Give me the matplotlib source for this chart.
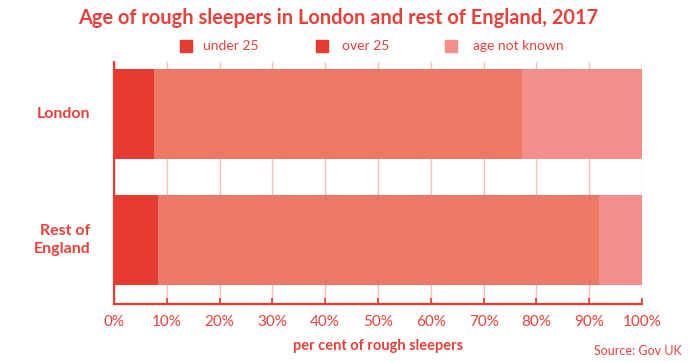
import matplotlib
matplotlib.use('Agg')
import matplotlib.pyplot as plt
import numpy as np
from matplotlib.patches import Rectangle

# data (per cent of rough sleepers)
regions = ['London', 'Rest of\nEngland']
under_25 = [7.5, 8.4]
over_25 = [69.7, 83.4]
not_known = [22.8, 8.2]
series_names = ['under 25', 'over 25', 'age not known']
ticks = np.arange(0, 101, 10)
tick_labels = [f'{t}%' for t in ticks]

red = '#E63B30'
mid = '#EE7866'
light = '#F28F8C'
txt = '#E8403A'

plt.rcParams['font.family'] = ['Lato', 'DejaVu Sans']

fig = plt.figure(figsize=(6.92, 3.62), dpi=100)
ax = fig.add_axes([114/692, 1 - 304/362, 528/692, 242/362])

y = [1, 0]
h = 0.71
ax.barh(y, under_25, height=h, color=red, zorder=3)
ax.barh(y, over_25, left=under_25, height=h, color=mid, zorder=3)
left3 = np.array(under_25) + np.array(over_25)
ax.barh(y, not_known, left=left3, height=h, color=light, zorder=3)

ax.set_xlim(0, 100)
ax.set_ylim(-0.508, 1.41)

# grid
ax.set_xticks(ticks)
ax.set_xticklabels(tick_labels, fontsize=11, color=txt)
ax.grid(axis='x', color='#F8BDBD', linewidth=1, zorder=0)
ax.tick_params(axis='x', direction='in', length=4, width=1.2, color=red, pad=8)
ax.set_yticks([])

for s in ['top', 'right']:
    ax.spines[s].set_visible(False)
for s in ['left', 'bottom']:
    ax.spines[s].set_color(red)
    ax.spines[s].set_linewidth(1.6)

# category labels
for yy, name in zip(y, regions):
    ax.text(-0.045, yy, name, transform=ax.get_yaxis_transform(), ha='right', va='center',
            fontsize=11.5, fontweight='bold', color=txt, linespacing=1.3)

ax.set_xlabel('per cent of rough sleepers', fontsize=10.5, fontweight='bold', color=txt, labelpad=7)

fig.text(338/692, 1 - 18/362, 'Age of rough sleepers in London and rest of England, 2017',
         ha='center', va='center', fontsize=14.4, fontweight='bold', color=txt)

# legend (over 25 swatch drawn in the darker red as in the original)
swatch_cols = [red, red, light]
swatch_x = [180, 316, 445]
text_x = [203, 342, 473]
for sx, tx, c, name in zip(swatch_x, text_x, swatch_cols, series_names):
    fig.add_artist(Rectangle((sx/692, 1 - 52/362), 12/692, 12/362, color=c,
                             transform=fig.transFigure))
    fig.text(tx/692, 1 - 46/362, name, ha='left', va='center', fontsize=10, color=txt)

fig.text(682/692, 1 - 351/362, 'Source: Gov UK', ha='right', va='center', fontsize=9, color=txt)

fig.savefig('out.png', dpi=100)
